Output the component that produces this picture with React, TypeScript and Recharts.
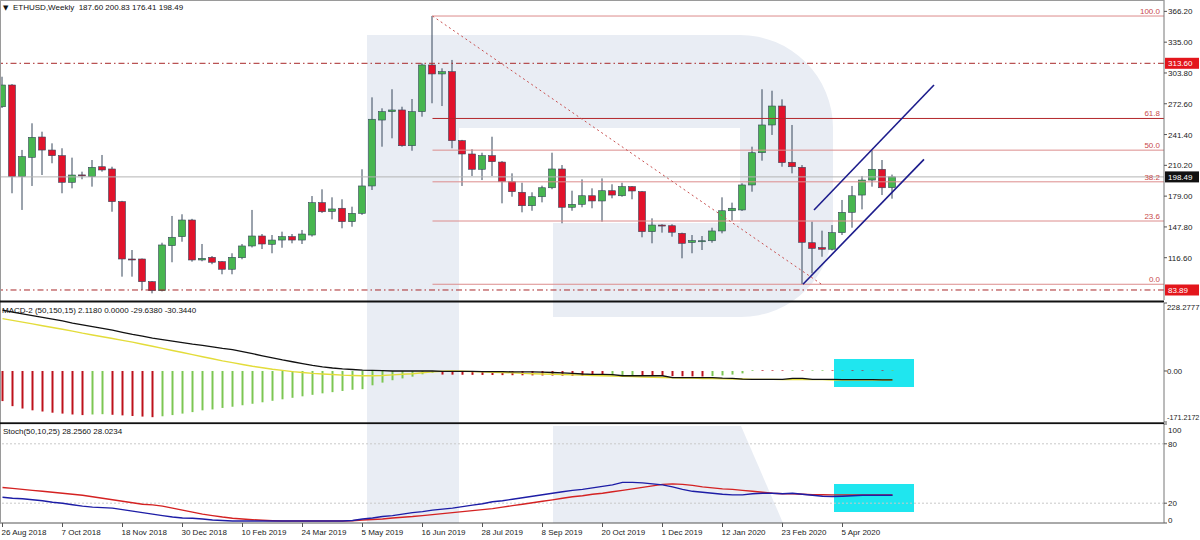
import React from "react";
import {
  ComposedChart,
  Bar,
  Line,
  XAxis,
  YAxis,
  ReferenceLine,
  ReferenceArea,
  Cell,
} from "recharts";

const FONT = "'Liberation Sans', Arial, sans-serif";
const X_MIN = -0.25;
const X_MAX = 116.15;

const GREEN = "#47b64f";
const RED = "#e2122b";
const WICK = "#36465a";
const HIST_UP = "#7cc653";
const HIST_DOWN = "#bd111b";

// weekly ETHUSD candles, 26 Aug 2018 .. 10 May 2020
const opens = [
  269.6, 291.6, 198.7, 218.3, 238.9, 225.7, 220.0, 193.0, 200.5, 198.7,
  208.8, 206.5, 173.4, 115.3, 115.3, 92.3, 83.2, 128.8, 137.9, 154.8,
  114.3, 117.0, 112.6, 104.9, 116.6, 128.5, 138.6, 130.2, 134.5, 138.0,
  134.5, 139.6, 172.4, 163.5, 166.7, 153.1, 161.6, 189.3, 256.1, 264.6,
  266.3, 230.1, 264.6, 311.9, 302.8, 305.1, 235.2, 221.7, 206.2, 220.0,
  213.5, 193.6, 182.9, 169.3, 178.4, 187.5, 206.5, 167.7, 170.7, 179.4,
  174.1, 184.5, 179.4, 188.6, 183.5, 143.0, 149.7, 149.0, 141.3, 132.0,
  133.5, 133.8, 143.7, 164.2, 165.0, 190.3, 223.0, 251.1, 270.3, 213.3,
  208.2, 131.8, 126.8, 125.2, 142.0, 162.6, 180.1, 195.3, 206.2, 187.6,
];
const highs = [
  300.0, 292.5, 225.8, 252.8, 244.3, 232.5, 227.5, 218.0, 203.8, 215.6,
  220.7, 208.8, 174.2, 124.4, 115.8, 93.0, 131.8, 158.9, 160.6, 156.0,
  130.5, 118.3, 113.2, 121.1, 130.5, 165.0, 140.6, 139.6, 143.0, 140.6,
  144.7, 179.1, 185.9, 177.8, 175.8, 168.3, 206.2, 279.1, 268.0, 287.3,
  269.6, 277.4, 313.6, 361.5, 308.5, 317.0, 236.0, 226.5, 223.0, 239.2,
  214.5, 202.1, 192.6, 182.9, 189.6, 223.0, 210.5, 184.5, 196.0, 186.9,
  197.0, 191.0, 192.6, 189.2, 184.2, 156.5, 150.5, 150.5, 142.0, 139.6,
  138.6, 147.0, 177.8, 172.4, 192.0, 229.1, 287.3, 285.8, 277.1, 251.1,
  210.5, 153.1, 144.0, 149.7, 175.1, 189.3, 199.4, 225.7, 215.6, 200.83,
];
const lows = [
  268.3, 181.9, 165.0, 189.3, 200.4, 212.3, 181.9, 186.9, 196.1, 188.6,
  203.8, 163.2, 97.4, 97.4, 84.0, 80.5, 82.5, 112.0, 132.8, 112.6,
  113.0, 110.0, 99.8, 99.8, 115.0, 127.0, 125.4, 121.1, 126.7, 131.2,
  130.5, 138.0, 162.0, 155.5, 146.4, 148.0, 160.0, 185.2, 229.1, 237.6,
  229.1, 225.0, 259.5, 273.1, 270.3, 227.5, 189.3, 199.4, 195.3, 199.4,
  171.7, 178.4, 162.6, 164.2, 172.7, 186.0, 151.5, 164.2, 167.7, 166.7,
  153.1, 176.8, 178.4, 175.8, 137.3, 131.2, 142.0, 137.9, 116.0, 121.1,
  124.4, 131.8, 141.3, 154.1, 164.0, 183.5, 214.9, 241.0, 208.8, 202.1,
  89.7, 100.8, 117.6, 124.0, 139.6, 147.0, 165.6, 188.6, 180.1, 176.41,
];
const closes = [
  291.6, 198.7, 219.0, 238.6, 225.7, 220.0, 193.0, 200.4, 199.8, 208.2,
  205.5, 173.4, 115.3, 115.0, 92.3, 83.2, 129.5, 137.3, 154.8, 114.3,
  116.0, 112.0, 104.9, 117.0, 128.5, 138.6, 130.5, 134.5, 137.9, 134.5,
  140.6, 172.4, 163.2, 166.0, 153.1, 161.6, 189.3, 256.9, 264.6, 266.3,
  230.1, 264.6, 311.9, 302.8, 305.1, 235.2, 221.7, 206.2, 220.0, 213.9,
  193.6, 183.5, 169.3, 178.4, 187.5, 206.5, 167.7, 170.7, 179.4, 174.1,
  184.5, 180.1, 188.6, 184.2, 143.0, 149.7, 149.4, 142.4, 131.2, 134.0,
  133.8, 143.7, 164.2, 166.7, 190.3, 223.0, 251.1, 270.3, 212.9, 208.8,
  132.2, 126.1, 125.2, 142.0, 162.6, 179.4, 195.3, 206.2, 187.5, 198.49,
];

// MACD-2 (50,150,15)
const histogram = [
  -101, -118, -126, -132, -136, -140, -143, -146, -148, -146,
  -145, -147, -149, -151, -153, -155, -152, -148, -143, -138,
  -132, -129, -124, -120, -115, -110, -105, -100, -95, -90,
  -85, -80, -75, -71, -67, -63, -61, -48, -39, -31,
  -25, -19, -11, -6, -12, -12.3, -12.6, -12.9, -13.2, -13.5,
  -13.8, -14.1, -14.4, -14.7, -15, -15.3, -15.6, -15.9, -16.2, -16.5,
  -16.8, -16.4, -16, -15.6, -16, -16.4, -16.8, -17.2, -17.6, -18,
  -18.4, -17, -15, -12, -8, 2.5, 2.3, 2.1, 2.0, 2.1,
  1.9, 2.0, 2.2, 2.1, 2.3, 2.2, 2.0, 2.1, 2.0, 2.118,
];
const macdMain = [
  204, 198, 192, 186, 180, 174, 168, 161, 155, 149,
  143, 137, 130, 123, 117, 110, 105, 100, 95, 90,
  86, 81, 76, 72, 65, 58, 51, 44, 37, 31,
  25, 19, 14, 10, 7, 5, 3, 2, 1, 0,
  0, 0, 0, 0, -1, -1, -1, -1, -2, -2,
  -2, -3, -3, -3, -4, -5, -6, -8, -10, -11,
  -11, -12, -16, -16, -16, -16, -16, -22, -22, -22,
  -22, -22, -24, -25, -27, -28, -28, -28, -28, -25,
  -25, -28, -28, -28, -29, -29, -29, -29, -29.5, -29.638,
];
const macdSignal = [
  176, 170, 164, 158, 152, 146, 140, 134, 127, 121,
  115, 109, 103, 97, 90, 83, 76, 69, 62, 55,
  48, 41, 34, 28, 22, 16, 11, 6, 2, -2,
  -5, -8, -10, -12, -14, -15, -16, -16, -15, -13,
  -11, -9, -6, -3, -1, 0, -1, -2, -3, -4,
  -5, -6, -8, -9, -10, -11, -12, -13, -14, -15,
  -16, -17, -18, -19, -20, -21, -22, -23, -24, -24,
  -25, -25, -26, -27, -27, -28, -28, -28, -29, -29,
  -29, -29, -29, -30, -30, -30, -30, -30, -30.3, -30.344,
];

// Stoch(50,10,25)
const stochMain = [
  26, 25, 24.5, 23.5, 22.5, 21, 20, 18.5, 17, 16,
  15.5, 15, 13.5, 12, 10.5, 9, 7.5, 6, 5, 4.8,
  4, 3, 2.5, 2, 2, 2, 2, 2, 2, 2,
  2, 2, 2, 2, 2, 2.5, 4, 5, 6.5, 7.5,
  9, 10.5, 11.5, 13, 14, 15, 16.5, 18, 19.5, 21.5,
  22.5, 24, 25.5, 27, 28.5, 30, 31.5, 33, 34, 35.5,
  37, 38.5, 41, 41, 40.5, 39.5, 38.5, 36.5, 34, 32,
  31, 30, 29, 28.4, 28.4, 29.5, 30, 30, 29.5, 30,
  29, 28, 27, 26.7, 27, 27.5, 28, 28, 28, 28.02,
];
const stochSignal = [
  35.8, 35, 34, 33, 32, 31, 30, 29, 28, 26.5,
  25, 23.5, 22, 20.5, 19, 18.3, 17, 15, 13, 11,
  9, 7.5, 6, 4.8, 4, 3.3, 2.8, 2.3, 2, 2,
  2, 2, 2, 2, 2, 2.3, 3, 3.5, 4, 5,
  5.8, 6.5, 7.5, 8.5, 9.5, 10.5, 11.5, 12.5, 13.5, 14.5,
  16, 17.5, 19, 20.5, 22, 23.4, 25, 26.5, 27.5, 29,
  30, 31.5, 33, 34.5, 36, 37.5, 39, 39.5, 39, 38,
  36.5, 35.5, 34.5, 34, 33, 32, 31, 30, 29.5, 29.5,
  29, 28.5, 28.5, 28.4, 28.4, 28.3, 28.3, 28.3, 28.3, 28.26,
];

const dateTickIdx = [0, 6, 12, 18, 24, 30, 36, 42, 48, 54, 60, 66, 72, 78, 84];
const dateLabels = [
  "26 Aug 2018", "7 Oct 2018", "18 Nov 2018", "30 Dec 2018", "10 Feb 2019",
  "24 Mar 2019", "5 May 2019", "16 Jun 2019", "28 Jul 2019", "8 Sep 2019",
  "20 Oct 2019", "1 Dec 2019", "12 Jan 2020", "23 Feb 2020", "5 Apr 2020",
];
const priceTicks = [116.6, 147.8, 179.0, 210.2, 241.4, 272.6, 303.8, 335.0, 366.2];
const macdTicks = [-171.2172, 0, 228.2777];
const stochTicks = [0, 20, 80, 100];

// fibonacci drawn from the June 2019 high to the March 2020 low
const fibLabels = ["0.0", "23.6", "38.2", "50.0", "61.8", "100.0"];
const fibPrices = [89.7, 153.8, 193.5, 225.6, 257.7, 361.5];
const fibFrom = { x: 43, y: 361.5 };
const fibTo = { x: 81.9, y: 89.7 };

const resistance = 313.6;
const support = 83.89;
const lastClose = 198.49;

const channelUpper = [{ x: 81.15, y: 165.0 }, { x: 93.15, y: 291.6 }];
const channelLower = [{ x: 80.05, y: 89.7 }, { x: 92.15, y: 216.3 }];

const highlight = { x1: 83.15, x2: 91.15 };

const candles = opens.map((open, i) => ({
  i,
  open,
  high: highs[i],
  low: lows[i],
  close: closes[i],
}));
const macdData = histogram.map((hist, i) => ({
  i,
  hist,
  macd: macdMain[i],
  signal: macdSignal[i],
}));
const stochData = stochMain.map((main, i) => ({
  i,
  main,
  signal: stochSignal[i],
}));

function CandleShape(props: any) {
  const { x, y, width, height, payload } = props;
  if (!payload || !Number.isFinite(y) || !Number.isFinite(height)) return null;
  const top = Math.min(y, y + height);
  const h = Math.abs(height);
  const { open, close, high, low } = payload;
  const yOf = (p: number) => top + ((high - p) / (high - low || 1)) * h;
  const cx = x + width / 2;
  const up = close >= open;
  const bTop = yOf(Math.max(open, close));
  const bBot = yOf(Math.min(open, close));
  return (
    <g>
      <line x1={cx} x2={cx} y1={top} y2={top + h} stroke={WICK} strokeWidth={1} />
      <rect
        x={cx - 3.5}
        y={bTop}
        width={7}
        height={Math.max(bBot - bTop, 1)}
        fill={up ? GREEN : RED}
        stroke={WICK}
        strokeWidth={0.6}
      />
    </g>
  );
}

function PriceTick({ x, y, payload }: any) {
  return (
    <text x={x} y={y + 3} fontSize={8} fontFamily={FONT} fill="#1a1a1a">
      {Number(payload.value).toFixed(2)}
    </text>
  );
}

function MacdTick({ x, y, payload }: any) {
  const v = payload.value;
  const shift = v > 0 ? 7 : v < 0 ? -2 : 3;
  const text = v === 0 ? "0.00" : v.toFixed(4);
  return (
    <text x={x - 1} y={y + shift} fontSize={v < 0 ? 7.2 : 7.8} fontFamily={FONT} fill="#1a1a1a">
      {text}
    </text>
  );
}

function StochTick({ x, y, payload }: any) {
  const v = payload.value;
  const shift = v === 100 ? 9 : v === 0 ? 0 : 3;
  return (
    <text x={x} y={y + shift} fontSize={8} fontFamily={FONT} fill="#1a1a1a">
      {v}
    </text>
  );
}

function DateTick({ x, y, payload }: any) {
  const k = dateTickIdx.indexOf(payload.value);
  return (
    <text x={x - 1} y={y + 6} fontSize={8} fontFamily={FONT} fill="#1a1a1a">
      {dateLabels[k]}
    </text>
  );
}

function axisBox(text: string, fill: string) {
  return {
    content: ({ viewBox }: any) => {
      const right = viewBox.x + viewBox.width;
      return (
        <g>
          <rect x={right + 1} y={viewBox.y - 5.5} width={34} height={11} fill={fill} />
          <text x={right + 4} y={viewBox.y + 3} fontSize={8} fontFamily={FONT} fill="#fff">
            {text}
          </text>
        </g>
      );
    },
  };
}

function fibLabel(text: string) {
  return {
    content: ({ viewBox }: any) => (
      <text
        x={viewBox.x + viewBox.width - 4}
        y={viewBox.y - 2}
        textAnchor="end"
        fontSize={8}
        fontFamily={FONT}
        fill="#c8494a"
      >
        {text}
      </text>
    ),
  };
}

function MainPane() {
  return (
    <ComposedChart
      width={1200}
      height={300}
      data={candles}
      margin={{ top: 0, right: 0, bottom: 0, left: 0 }}
    >
      <XAxis dataKey="i" type="number" domain={[X_MIN, X_MAX]} allowDataOverflow hide />
      <YAxis
        orientation="right"
        width={36}
        domain={[73.75, 377.74]}
        allowDataOverflow
        ticks={priceTicks}
        interval={0}
        tickSize={3}
        tickMargin={1}
        axisLine={{ stroke: "#777" }}
        tickLine={{ stroke: "#555" }}
        tick={<PriceTick />}
      />
      <ReferenceLine
        y={lastClose}
        stroke="#b4b4b4"
        strokeWidth={1}
        label={axisBox("198.49", "#111")}
      />
      {fibPrices.map((p, k) => (
        <ReferenceLine
          key={"fib" + k}
          segment={[{ x: fibFrom.x, y: p }, { x: X_MAX, y: p }]}
          stroke={k === 4 ? "#b3262a" : "#dc8c8c"}
          strokeWidth={1}
          label={fibLabel(fibLabels[k])}
        />
      ))}
      <ReferenceLine
        segment={[fibFrom, fibTo]}
        stroke="#c85050"
        strokeWidth={1}
        strokeDasharray="2 3"
      />
      <ReferenceLine
        y={resistance}
        stroke="#a8282a"
        strokeWidth={1}
        strokeDasharray="6 3 1.5 3"
        label={axisBox("313.60", "#e3161c")}
      />
      <ReferenceLine
        y={support}
        stroke="#a8282a"
        strokeWidth={1}
        strokeDasharray="6 3 1.5 3"
        label={axisBox("83.89", "#e3161c")}
      />
      <Bar
        dataKey={(d: any) => [d.low, d.high]}
        barSize={7}
        shape={(p: any) => <CandleShape {...p} />}
        isAnimationActive={false}
      />
      <ReferenceLine segment={channelUpper} stroke="#1c1c8c" strokeWidth={1.6} />
      <ReferenceLine segment={channelLower} stroke="#1c1c8c" strokeWidth={1.6} />
    </ComposedChart>
  );
}

function MacdPane() {
  return (
    <ComposedChart
      width={1200}
      height={122}
      data={macdData}
      margin={{ top: 2, right: 0, bottom: 1, left: 0 }}
    >
      <XAxis dataKey="i" type="number" domain={[X_MIN, X_MAX]} allowDataOverflow hide />
      <YAxis
        orientation="right"
        width={36}
        domain={[macdTicks[0], macdTicks[2]]}
        allowDataOverflow
        ticks={macdTicks}
        interval={0}
        tickSize={3}
        tickMargin={1}
        axisLine={{ stroke: "#777" }}
        tickLine={{ stroke: "#555" }}
        tick={<MacdTick />}
      />
      <ReferenceArea
        x1={highlight.x1}
        x2={highlight.x2}
        y1={-53.7}
        y2={40.3}
        fill="#1fe6ef"
        fillOpacity={1}
        stroke="none"
      />
      <Bar dataKey="hist" barSize={2} isAnimationActive={false}>
        {macdData.map((d, i) => (
          <Cell
            key={i}
            fill={i > 0 && d.hist >= histogram[i - 1] ? HIST_UP : HIST_DOWN}
          />
        ))}
      </Bar>
      <Line
        dataKey="signal"
        stroke="#e3dc3a"
        strokeWidth={1.4}
        dot={false}
        isAnimationActive={false}
      />
      <Line
        dataKey="macd"
        stroke="#111"
        strokeWidth={1.3}
        dot={false}
        isAnimationActive={false}
      />
    </ComposedChart>
  );
}

function StochPane() {
  return (
    <ComposedChart
      width={1200}
      height={117}
      data={stochData}
      margin={{ top: 1, right: 0, bottom: 0, left: 0 }}
    >
      <XAxis
        dataKey="i"
        type="number"
        domain={[X_MIN, X_MAX]}
        allowDataOverflow
        ticks={dateTickIdx}
        interval={0}
        height={17}
        tickSize={4}
        tickMargin={2}
        axisLine={{ stroke: "#555" }}
        tickLine={{ stroke: "#555" }}
        tick={<DateTick />}
      />
      <YAxis
        orientation="right"
        width={36}
        domain={[0, 100]}
        allowDataOverflow
        ticks={stochTicks}
        interval={0}
        tickSize={3}
        tickMargin={1}
        axisLine={{ stroke: "#777" }}
        tickLine={{ stroke: "#555" }}
        tick={<StochTick />}
      />
      <ReferenceLine y={80} stroke="#c9c9c9" strokeDasharray="2 2" />
      <ReferenceLine y={20} stroke="#c9c9c9" strokeDasharray="2 2" />
      <ReferenceArea
        x1={highlight.x1}
        x2={highlight.x2}
        y1={11.1}
        y2={39.4}
        fill="#1fe6ef"
        fillOpacity={1}
        stroke="none"
      />
      <Line
        dataKey="signal"
        stroke="#d42222"
        strokeWidth={1.4}
        dot={false}
        isAnimationActive={false}
      />
      <Line
        dataKey="main"
        stroke="#1d1da6"
        strokeWidth={1.4}
        dot={false}
        isAnimationActive={false}
      />
    </ComposedChart>
  );
}

export default function App() {
  return (
    <div
      style={{
        position: "absolute",
        left: 0,
        top: 0,
        width: 1200,
        height: 540,
        overflow: "hidden",
        background: "#fff",
        fontFamily: FONT,
      }}
    >
      {/* faint broker watermark */}
      <svg width={1200} height={540} style={{ position: "absolute", left: 0, top: 0 }}>
        <path
          d="M367,35 H740 A93,93 0 0 1 833,128 V225 A92,92 0 0 1 741,317 H553 V223 H740 V128 H459 V523 H367 Z"
          fill="#e9edf4"
        />
        <path d="M553,426 H741 L783,523 H553 Z" fill="#e9edf4" />
      </svg>
      <div style={{ position: "absolute", left: 0, top: 0 }}>
        <MainPane />
      </div>
      <div style={{ position: "absolute", left: 0, top: 301 }}>
        <MacdPane />
      </div>
      <div style={{ position: "absolute", left: 0, top: 423 }}>
        <StochPane />
      </div>
      <svg
        width={1200}
        height={540}
        style={{ position: "absolute", left: 0, top: 0, pointerEvents: "none" }}
      >
        <line x1={0} x2={1164} y1={0.5} y2={0.5} stroke="#9a9a9a" />
        <line x1={0.5} x2={0.5} y1={0} y2={523} stroke="#9a9a9a" />
        <rect x={0} y={300.5} width={1164} height={2} fill="#111" />
        <rect x={0} y={422.3} width={1164} height={1.8} fill="#111" />
        <text x={3} y={10} fontSize={7} fontFamily="DejaVu Sans" fill="#111">
          ▼
        </text>
        <text x={13} y={10} fontSize={8} fontFamily={FONT} fill="#111" xmlSpace="preserve">
          ETHUSD,Weekly  187.60 200.83 176.41 198.49
        </text>
        <text x={2} y={313} fontSize={8} fontFamily={FONT} fill="#111">
          MACD-2 (50,150,15) 2.1180 0.0000 -29.6380 -30.3440
        </text>
        <text x={3} y={434} fontSize={8} fontFamily={FONT} fill="#111">
          Stoch(50,10,25) 28.2560 28.0234
        </text>
      </svg>
    </div>
  );
}
